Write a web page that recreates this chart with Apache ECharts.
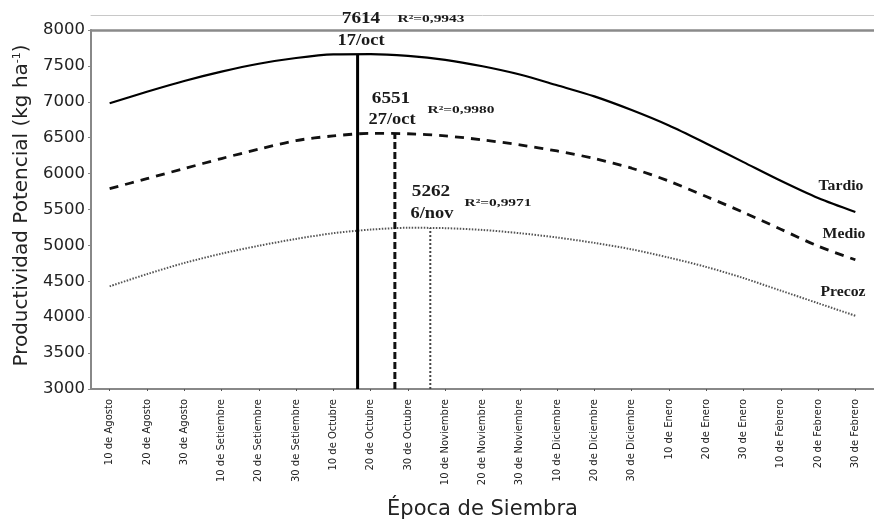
<!DOCTYPE html>
<html>
<head>
<meta charset="utf-8">
<script src="https://cdn.jsdelivr.net/npm/echarts@6/dist/echarts.min.js"></script>
<style>html,body{margin:0;padding:0;background:#fff}#c{width:874px;height:519px}</style>
</head>
<body>
<div id="c"></div>
<script>
var categories = ['10 de Agosto','20 de Agosto','30 de Agosto','10 de Setiembre','20 de Setiembre','30 de Setiembre','10 de Octubre','20 de Octubre','30 de Octubre','10 de Noviembre','20 de Noviembre','30 de Noviembre','10 de Diciembre','20 de Diciembre','30 de Diciembre','10 de Enero','20 de Enero','30 de Enero','10 de Febrero','20 de Febrero','30 de Febrero'];
var tardio = [6980,7140,7290,7420,7530,7610,7660,7665,7640,7585,7495,7380,7230,7075,6885,6670,6420,6160,5900,5660,5465];
var medio  = [5790,5930,6070,6210,6340,6460,6525,6560,6555,6525,6470,6400,6315,6210,6075,5895,5680,5460,5225,4990,4800];
var precoz = [4430,4600,4755,4885,4995,5090,5170,5220,5245,5240,5215,5170,5110,5035,4945,4830,4700,4545,4370,4195,4020];
// optimum sowing date positions (in category units) and drawn tops of the vertical lines
var peakPos = [6.65, 7.65, 8.6];
var peakTop = [7665, 6560, 5242];
var peakLabels = ['7614', '6551', '5262'];
var peakDates = ['17/oct', '27/oct', '6/nov'];
var r2Labels = ['R\u00b2=0,9943', 'R\u00b2=0,9980', 'R\u00b2=0,9971'];
var seriesNames = ['Tardio', 'Medio', 'Precoz'];

function pts(arr){ return arr.map(function(v,i){ return [i, v]; }); }
function vline(k){ return [[peakPos[k], 3000], [peakPos[k], peakTop[k]]]; }

var chart = echarts.init(document.getElementById('c'), null, {renderer:'canvas'});
function txt(str, x, y, size, sx){
  return {type:'text', x:x, y:y, scaleX:sx||1.2, style:{text:str, font:'bold '+size+'px "Liberation Serif", "Times New Roman", serif', fill:'#1a1a1a', textAlign:'center', textVerticalAlign:'middle'}, z:100};
}
var option = {
  animation:false,
  backgroundColor:'#fff',
  grid:{left:91, right:0, top:30, bottom:130, containLabel:false, outerBoundsMode:'none'},
  xAxis:[
    {type:'category', data:categories, position:'bottom', boundaryGap:true,
     name:'Época de Siembra', nameLocation:'middle', nameGap:110,
     nameTextStyle:{fontFamily:'DejaVu Sans', fontSize:21, color:'#222'},
     axisLine:{show:true, onZero:false, lineStyle:{color:'#888', width:2}},
     axisTick:{show:true, alignWithLabel:true, length:2, lineStyle:{color:'#555'}},
     axisLabel:{rotate:90, fontFamily:'DejaVu Sans', fontSize:10, color:'#222', margin:10, interval:0},
     splitLine:{show:false}},
    {type:'value', min:-0.5, max:20.5, show:false, position:'bottom'},
    {type:'category', data:categories, position:'top', boundaryGap:true,
     axisLine:{show:true, onZero:false, lineStyle:{color:'#8a8a8a', width:2.5}},
     axisTick:{show:false}, axisLabel:{show:false}},
    {type:'category', data:categories, position:'top', offset:15, boundaryGap:true,
     axisLine:{show:true, onZero:false, lineStyle:{color:'#c8c8c8', width:1}},
     axisTick:{show:false}, axisLabel:{show:false}}
  ],
  yAxis:{type:'value', min:3000, max:8000, interval:500,
     name:'{a|Productividad Potencial (kg ha}{s|-1}{a|)}', nameLocation:'middle', nameGap:59,
     nameTextStyle:{padding:[0,0,0,8], rich:{a:{fontFamily:'DejaVu Sans', fontSize:20, color:'#222'}, s:{fontFamily:'DejaVu Sans', fontSize:11, color:'#222', verticalAlign:'top', padding:[0,0,9,0]}}},
     axisLine:{show:true, onZero:false, lineStyle:{color:'#888', width:2}},
     axisTick:{show:true, length:3, lineStyle:{color:'#888'}},
     axisLabel:{fontFamily:'DejaVu Sans', fontSize:16.5, color:'#222', margin:6, formatter:function(v){return String(v);}},
     splitLine:{show:false}},
  series:[
    {name:seriesNames[0], type:'line', xAxisIndex:1, data:pts(tardio), smooth:0.3, symbol:'none', lineStyle:{color:'#000', width:2.2}},
    {name:seriesNames[1], type:'line', xAxisIndex:1, data:pts(medio), smooth:0.3, symbol:'none', lineStyle:{color:'#111', width:2.8, type:[9,7]}},
    {name:seriesNames[2], type:'line', xAxisIndex:1, data:pts(precoz), smooth:0.3, symbol:'none', lineStyle:{color:'#555', width:2, type:[1.5,1.5]}},
    {type:'line', xAxisIndex:1, data:vline(0), symbol:'none', lineStyle:{color:'#000', width:3}},
    {type:'line', xAxisIndex:1, data:vline(1), symbol:'none', lineStyle:{color:'#111', width:3, type:[7,3]}},
    {type:'line', xAxisIndex:1, data:vline(2), symbol:'none', lineStyle:{color:'#444', width:2, type:[2,2]}}
  ],
  graphic:[
    txt(peakLabels[0], 361, 19, 16, 1.2),
    txt(peakDates[0], 361, 41, 16, 1.15),
    txt(r2Labels[0], 431, 19, 11, 1.4),
    txt(peakLabels[1], 391, 99, 16, 1.2),
    txt(peakDates[1], 392, 120, 16, 1.15),
    txt(r2Labels[1], 461, 110, 11, 1.4),
    txt(peakLabels[2], 431, 192, 16, 1.2),
    txt(peakDates[2], 432, 214, 16, 1.15),
    txt(r2Labels[2], 498, 203, 11, 1.4),
    txt(seriesNames[0], 841, 186, 15, 1.05),
    txt(seriesNames[1], 844, 234, 15, 1.05),
    txt(seriesNames[2], 843, 292, 15, 1.05)
  ]
};
chart.setOption(option);
</script>
</body>
</html>
